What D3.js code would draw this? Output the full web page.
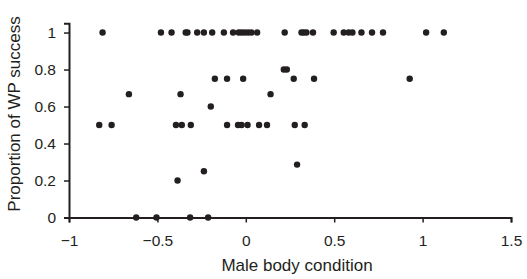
<!DOCTYPE html>
<html>
<head>
<meta charset="utf-8">
<script src="https://cdn.jsdelivr.net/npm/d3@7"></script>
<style>
  body { margin: 0; background: #fff; }
  svg text { font-family: "Liberation Sans", Arial, sans-serif; fill: #231f20; }
</style>
</head>
<body>
<div id="chart"></div>
<script>
// male body condition (x) and proportion of WP success (y)
var bodyCond = [
  -0.81, -0.48, -0.42, -0.34, -0.33, -0.275, -0.237, -0.19, -0.124, -0.072,
  -0.04, -0.024, -0.006, 0.013, 0.032, 0.064, 0.22, 0.315, 0.328, 0.343,
  0.38, 0.497, 0.554, 0.582, 0.603, 0.654, 0.714, 0.776, 1.02, 1.12,
  0.215, 0.232,
  -0.175, -0.106, -0.015, 0.271, 0.386, 0.927,
  -0.661, -0.369, 0.14,
  -0.198,
  -0.829, -0.759, -0.395, -0.362, -0.311, -0.106, -0.044, -0.024, 0.01, 0.075, 0.12, 0.277, 0.333,
  0.29,
  -0.237,
  -0.386,
  -0.62, -0.505, -0.315, -0.213
];
var wpSuccess = [
  1, 1, 1, 1, 1, 1, 1, 1, 1, 1,
  1, 1, 1, 1, 1, 1, 1, 1, 1, 1,
  1, 1, 1, 1, 1, 1, 1, 1, 1, 1,
  0.8, 0.8,
  0.75, 0.75, 0.75, 0.75, 0.75, 0.75,
  0.667, 0.667, 0.667,
  0.6,
  0.5, 0.5, 0.5, 0.5, 0.5, 0.5, 0.5, 0.5, 0.5, 0.5, 0.5, 0.5, 0.5,
  0.286,
  0.25,
  0.2,
  0, 0, 0, 0
];
var xTicks = [-1, -0.5, 0, 0.5, 1, 1.5];
var yTicks = [0, 0.2, 0.4, 0.6, 0.8, 1];

var width = 527, height = 279;
var svg = d3.select('#chart').append('svg')
  .attr('width', width).attr('height', height);

var x = d3.scaleLinear().domain([-1, 1.5]).range([69, 511]);
var y = d3.scaleLinear().domain([0, 1.05]).range([217.5, 23.3]);

function fmt(d) {
  return d < 0 ? '\u2212' + Math.abs(d) : String(d);
}

var xAxis = svg.append('g')
  .attr('transform', 'translate(0,' + y(0) + ')')
  .call(d3.axisBottom(x).tickValues(xTicks).tickFormat(fmt).tickSizeOuter(0).tickSize(5).tickPadding(12));

var yAxis = svg.append('g')
  .attr('transform', 'translate(' + x(-1) + ',0)')
  .call(d3.axisLeft(y).tickValues(yTicks).tickFormat(fmt).tickSizeOuter(0).tickSize(5).tickPadding(8));

[xAxis, yAxis].forEach(function(g) {
  g.select('.domain').attr('stroke', '#231f20').attr('stroke-width', 2);
  g.selectAll('.tick line').attr('stroke', '#231f20').attr('stroke-width', 1.5);
  g.selectAll('.tick text').style('font-size', '15.5px').attr('fill', '#231f20');
});

// points
svg.append('g').selectAll('circle')
  .data(bodyCond)
  .enter()
  .append('circle')
  .attr('cx', function(d) { return x(d); })
  .attr('cy', function(d, i) { return y(wpSuccess[i]); })
  .attr('r', 3.2)
  .attr('fill', '#231f20');

// axis titles
svg.append('text')
  .attr('x', 297)
  .attr('y', 271)
  .attr('text-anchor', 'middle')
  .style('font-size', '17px')
  .text('Male body condition');

svg.append('text')
  .attr('transform', 'translate(20,114) rotate(-90)')
  .attr('text-anchor', 'middle')
  .style('font-size', '17px')
  .text('Proportion of WP success');
</script>
</body>
</html>
